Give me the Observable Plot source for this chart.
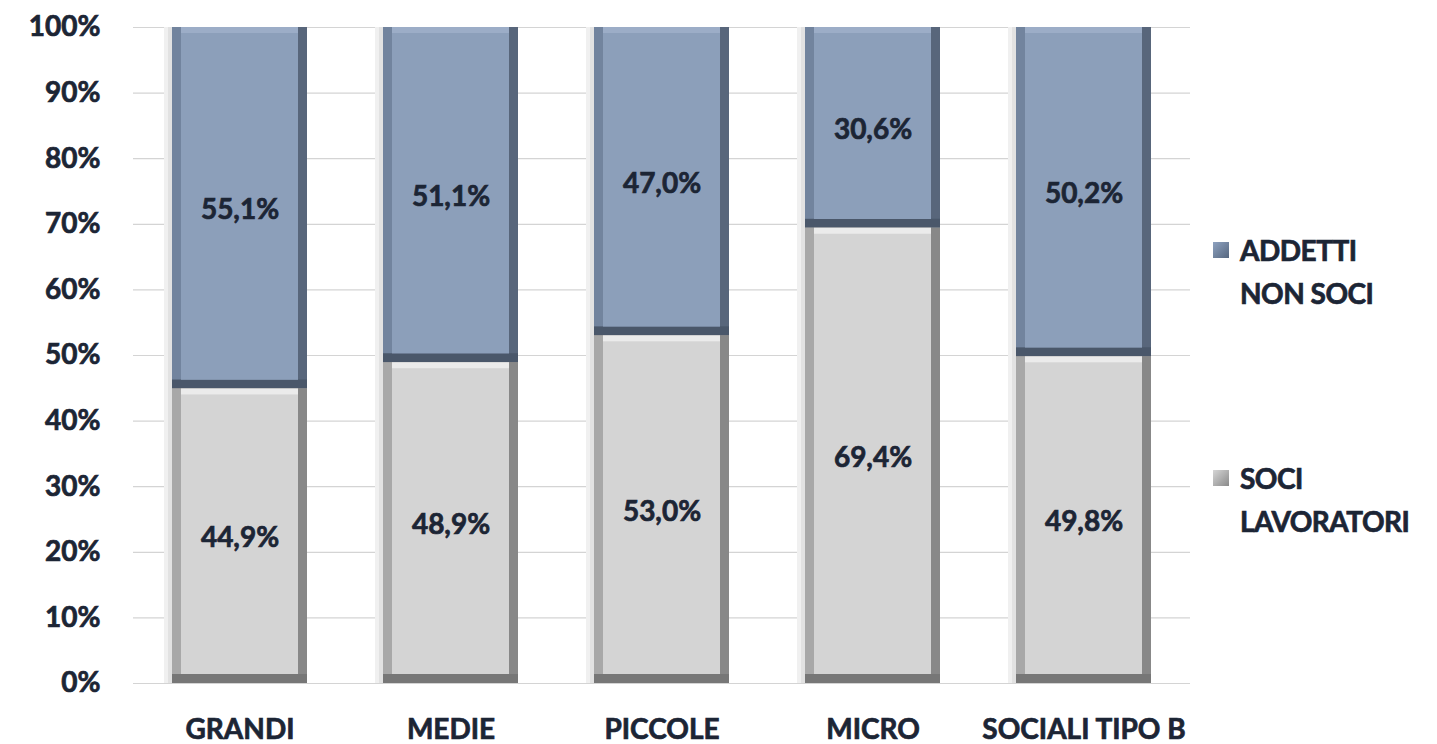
<!DOCTYPE html>
<html><head><meta charset="utf-8">
<script src="https://cdn.jsdelivr.net/npm/d3@7"></script>
<script src="https://cdn.jsdelivr.net/npm/@observablehq/plot@0.6"></script>
<style>
body{margin:0;background:#fff;font-family:Lato,sans-serif}
#wrap{position:relative;width:1437px;height:744px;overflow:hidden}
#wrap svg text{stroke:#1c2535;stroke-width:0.7px}
.lg{position:absolute;left:1240px;font:bold 28px Lato,sans-serif;color:#1c2535;line-height:43px;white-space:nowrap;letter-spacing:-0.5px;-webkit-text-stroke:0.7px #1c2535}
.sw{position:absolute;left:1213px;width:16px;height:16px}
</style></head><body><div id="wrap"></div>
<script>
const categories = ["GRANDI", "MEDIE", "PICCOLE", "MICRO", "SOCIALI TIPO B"];
const seriesNames = ["SOCI LAVORATORI", "ADDETTI NON SOCI"];
const soci = [44.9, 48.9, 53.0, 69.4, 49.8];
const addetti = [55.1, 51.1, 47.0, 30.6, 50.2];
const yTicks = [0, 10, 20, 30, 40, 50, 60, 70, 80, 90, 100];

const data = [];
categories.forEach((c, i) => {
  data.push({cat: c, series: seriesNames[0], value: soci[i]});
  data.push({cat: c, series: seriesNames[1], value: addetti[i]});
});

const pal = {
  "SOCI LAVORATORI": {bottom: "#777777", right: "#888888", left: "#a8a8a8", top: "#ebebeb", face: "#d4d4d4"},
  "ADDETTI NON SOCI": {bottom: "#4a576a", right: "#58667b", left: "#72849e", top: "#9cadc7", face: "#8c9fba"}
};
const fmt = v => v.toFixed(1).replace(".", ",") + "%";
const E = 9, T = 6;
const layer = (key, opts) => Plot.barY(data, Plot.stackY({
  x: "cat", y: "value", z: "series", fill: d => pal[d.series][key], ...opts
}));

const chart = Plot.plot({
  width: 1437, height: 744,
  marginLeft: 133, marginRight: 247, marginTop: 27, marginBottom: 61,
  style: {fontFamily: "Lato, sans-serif", background: "white", color: "#1c2535"},
  color: {type: "identity"},
  x: {domain: categories, paddingInner: 0.36, paddingOuter: 0.173, label: null},
  y: {domain: [0, 100], label: null},
  marks: [
    Plot.ruleY(yTicks, {stroke: "#d4d4d4", strokeWidth: 1.2}),
    Plot.barY(categories, {x: d => d, y: 100, fill: "#f0f0f0", insetLeft: -8, insetRight: 0}),
    Plot.barY(categories, {x: d => d, y: 100, fill: "#e2e2e2", insetLeft: -4, insetRight: 0}),
    layer("bottom", {}),
    layer("right", {insetBottom: E}),
    layer("left", {insetBottom: E, insetRight: E}),
    layer("top", {insetBottom: E, insetRight: E, insetLeft: E}),
    layer("face", {insetBottom: E, insetRight: E, insetLeft: E, insetTop: T}),
    Plot.text(data, Plot.stackY({x: "cat", y: "value", z: "series", text: d => fmt(d.value),
      fill: "#1c2535", fontSize: 28, fontWeight: "bold", dy: 2})),
    Plot.axisY(yTicks, {tickSize: 0, tickPadding: 33, tickFormat: d => d + "%", fontSize: 28, fontWeight: "bold", label: null}),
    Plot.axisX({tickSize: 0, tickPadding: 36, fontSize: 28, fontWeight: "bold", label: null})
  ]
});
const wrap = document.getElementById("wrap");
wrap.appendChild(chart);

const legend = [
  {name: ["ADDETTI", "NON SOCI"], top: 229, sq: 242, bg: "linear-gradient(135deg,#8ea2c0,#56677f)"},
  {name: ["SOCI", "LAVORATORI"], top: 457, sq: 470, bg: "linear-gradient(135deg,#d6d6d6,#8a8a8a)"}
];
legend.forEach(l => {
  const sw = document.createElement("div");
  sw.className = "sw"; sw.style.top = l.sq + "px"; sw.style.background = l.bg;
  wrap.appendChild(sw);
  const t = document.createElement("div");
  t.className = "lg"; t.style.top = l.top + "px";
  t.innerHTML = l.name.join("<br>");
  wrap.appendChild(t);
});
</script></body></html>
